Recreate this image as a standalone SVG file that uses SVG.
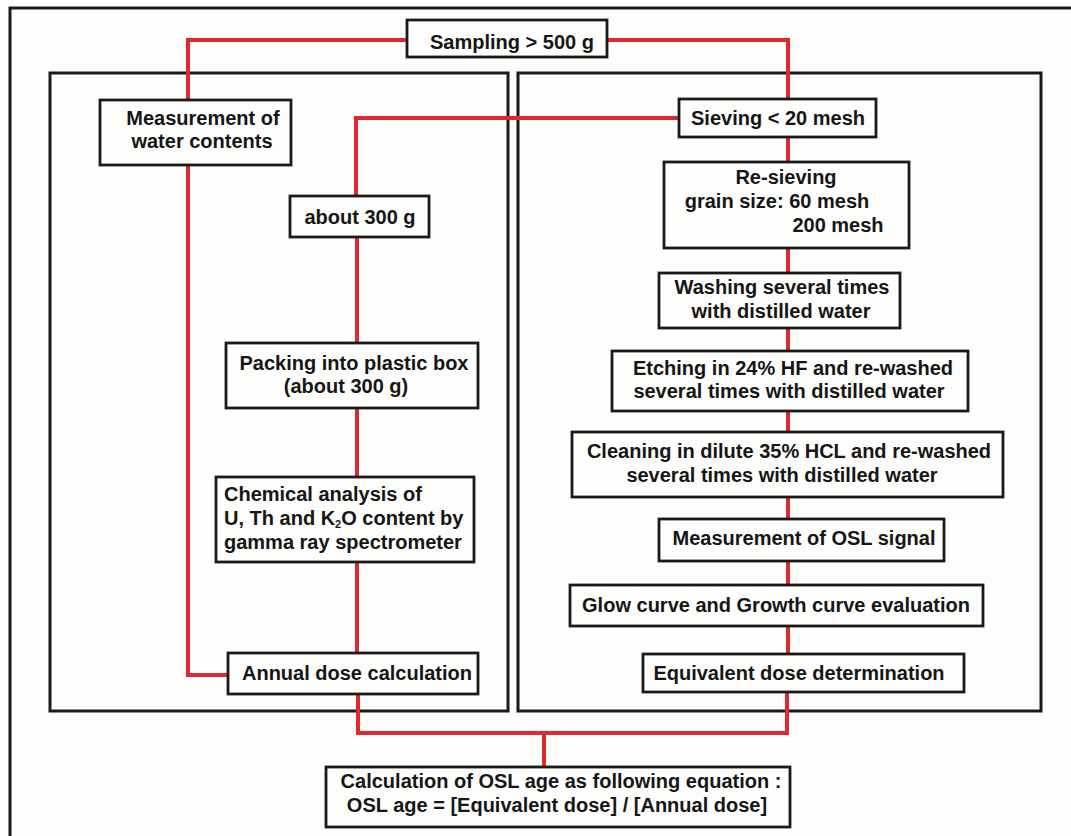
<svg xmlns="http://www.w3.org/2000/svg" width="1071" height="836" viewBox="0 0 1071 836">
<style>
.frame{fill:none;stroke:#1a1a1a;stroke-width:3}
.box{fill:#fdfdfc;stroke:#1a1a1a;stroke-width:2.8}
.c{fill:none;stroke:#e0282e;stroke-width:4;stroke-linejoin:miter}
text{font-family:"Liberation Sans",Arial,sans-serif;font-weight:bold;font-size:20px;fill:#161616}
.m{text-anchor:middle}
</style>
<rect x="0" y="0" width="1071" height="836" fill="#fdfdfc"/>
<g id="frames">
<rect class="frame" x="10" y="8" width="1100" height="900"/>
<rect class="frame" x="50" y="73" width="458" height="638"/>
<rect class="frame" x="518" y="73" width="523" height="638"/>
</g>
<g id="connectors">
<path class="c" d="M407,40 H188 V100"/>
<path class="c" d="M607,40 H788 V99"/>
<path class="c" d="M188,165 V675 H228"/>
<path class="c" d="M679,118 H356 V196"/>
<path class="c" d="M357,237 V343"/>
<path class="c" d="M357,408 V477"/>
<path class="c" d="M357,562 V653"/>
<path class="c" d="M358,694 V733 H787 V692"/>
<path class="c" d="M544,733 V767"/>
<path class="c" d="M788,137 V162"/>
<path class="c" d="M788,248 V273"/>
<path class="c" d="M788,328 V351"/>
<path class="c" d="M788,411 V432"/>
<path class="c" d="M788,497 V519"/>
<path class="c" d="M788,561 V585"/>
<path class="c" d="M788,626 V654"/>
</g>
<g id="sampling">
<rect class="box" x="407" y="20" width="200" height="37"/>
<text class="m" x="512" y="49">Sampling &gt; 500 g</text>
</g>
<g id="water">
<rect class="box" x="100" y="100" width="191" height="65"/>
<text class="m" x="203" y="125">Measurement of</text>
<text class="m" x="202" y="148">water contents</text>
</g>
<g id="about300">
<rect class="box" x="290" y="196" width="139" height="41"/>
<text class="m" x="360" y="224">about 300 g</text>
</g>
<g id="packing">
<rect class="box" x="226" y="343" width="252" height="65"/>
<text class="m" x="354" y="370">Packing into plastic box</text>
<text class="m" x="346" y="393">(about 300 g)</text>
</g>
<g id="chemical">
<rect class="box" x="216" y="477" width="258" height="85"/>
<text x="224" y="501">Chemical analysis of</text>
<text x="224" y="525">U, Th and K<tspan font-size="11" dy="3">2</tspan><tspan dy="-3">O content by</tspan></text>
<text x="224" y="549">gamma ray spectrometer</text>
</g>
<g id="annual">
<rect class="box" x="228" y="653" width="250" height="41"/>
<text class="m" x="357" y="680">Annual dose calculation</text>
</g>
<g id="sieving">
<rect class="box" x="679" y="99" width="197" height="38"/>
<text class="m" x="778" y="125">Sieving &lt; 20 mesh</text>
</g>
<g id="resieving">
<rect class="box" x="664" y="162" width="245" height="86"/>
<text class="m" x="786" y="184">Re-sieving</text>
<text class="m" x="777" y="208">grain size: 60 mesh</text>
<text class="m" x="838" y="232">200 mesh</text>
</g>
<g id="washing">
<rect class="box" x="659" y="273" width="241" height="55"/>
<text class="m" x="782" y="294">Washing several times</text>
<text class="m" x="781" y="318">with distilled water</text>
</g>
<g id="etching">
<rect class="box" x="612" y="351" width="356" height="60"/>
<text class="m" x="793" y="375">Etching in 24% HF and re-washed</text>
<text class="m" x="789" y="398">several times with distilled water</text>
</g>
<g id="cleaning">
<rect class="box" x="572" y="432" width="431" height="65"/>
<text class="m" x="789" y="458">Cleaning in dilute 35% HCL and re-washed</text>
<text class="m" x="782" y="482">several times with distilled water</text>
</g>
<g id="oslsignal">
<rect class="box" x="659" y="519" width="285" height="42"/>
<text class="m" x="804" y="545">Measurement of OSL signal</text>
</g>
<g id="glow">
<rect class="box" x="570" y="585" width="413" height="41"/>
<text class="m" x="776" y="612">Glow curve and Growth curve evaluation</text>
</g>
<g id="equivalent">
<rect class="box" x="643" y="654" width="321" height="38"/>
<text class="m" x="799" y="680">Equivalent dose determination</text>
</g>
<g id="oslage">
<rect class="box" x="326" y="767" width="464" height="60"/>
<text class="m" x="561" y="788">Calculation of OSL age as following equation :</text>
<text class="m" x="557" y="812">OSL age = [Equivalent dose] / [Annual dose]</text>
</g>
</svg>
